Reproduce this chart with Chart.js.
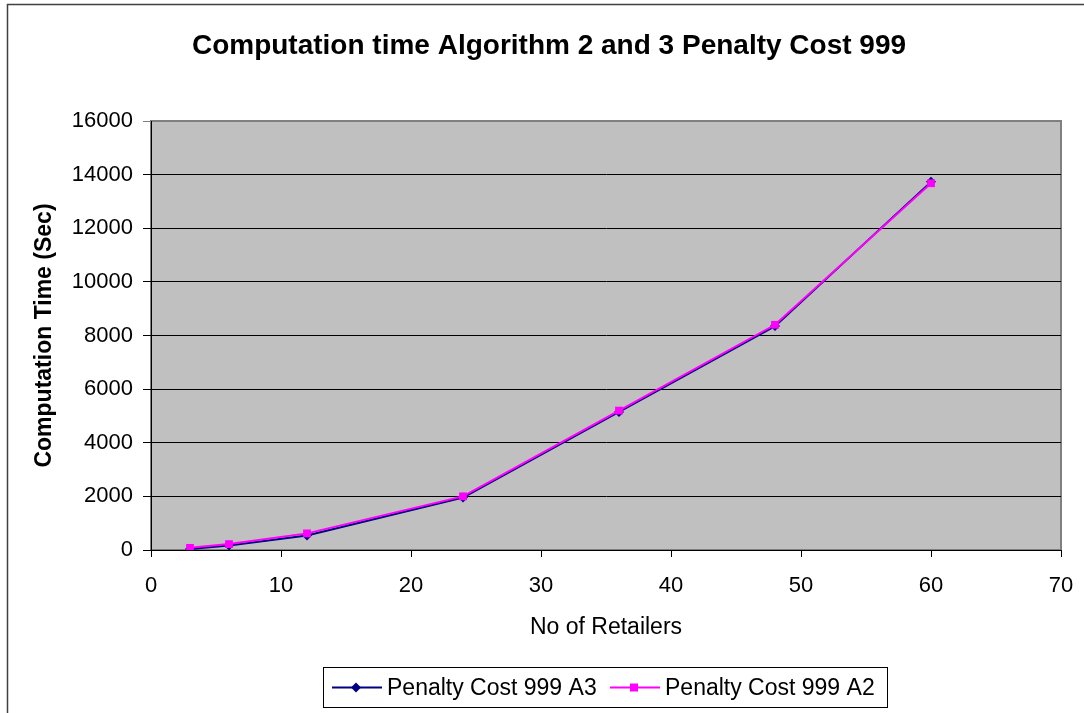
<!DOCTYPE html>
<html>
<head>
<meta charset="utf-8">
<title>Computation time Algorithm 2 and 3 Penalty Cost 999</title>
<script src="https://cdn.jsdelivr.net/npm/chart.js@4/dist/chart.umd.min.js"></script>
<style>
  html, body { margin: 0; padding: 0; background: #ffffff; overflow: hidden; }
  #wrap { position: relative; width: 1084px; height: 713px; }
  canvas { display: block; }
</style>
</head>
<body>
<div id="wrap"><canvas id="chart" width="1084" height="713"></canvas></div>
<script>
// Number of retailers tested
const retailers = [3, 6, 12, 24, 36, 48, 60];
// Computation time in seconds
const timeA3 = [40, 170, 540, 1960, 5150, 8350, 13730];
const timeA2 = [80, 220, 620, 2000, 5200, 8400, 13680];
const seriesLabels = ['Penalty Cost 999 A3', 'Penalty Cost 999 A2'];
const chartTitle = 'Computation time Algorithm 2 and 3 Penalty Cost 999';
const xTitle = 'No of Retailers';
const yTitle = 'Computation Time (Sec)';

const FONT = 'Arial, "Liberation Sans", sans-serif';

function toPoints(xs, ys) {
  return xs.map((x, i) => ({ x: x, y: ys[i] }));
}

// Frame, grey plot panel, title and boxed legend
const decor = {
  id: 'decor',
  beforeDraw(chart) {
    const ctx = chart.ctx;
    const a = chart.chartArea;
    ctx.save();
    ctx.fillStyle = '#ffffff';
    ctx.fillRect(0, 0, chart.width, chart.height);
    ctx.strokeStyle = '#404040';
    ctx.lineWidth = 1.5;
    ctx.strokeRect(7.5, 4.5, chart.width + 20, chart.height + 20);
    ctx.fillStyle = '#c0c0c0';
    ctx.fillRect(a.left, a.top, a.right - a.left, a.bottom - a.top);
    ctx.strokeStyle = '#808080';
    ctx.lineWidth = 2;
    ctx.strokeRect(a.left, a.top, a.right - a.left, a.bottom - a.top);
    ctx.restore();
  },
  afterDraw(chart) {
    const ctx = chart.ctx;
    ctx.save();
    // title
    ctx.fillStyle = '#000';
    ctx.font = 'bold 28px ' + FONT;
    ctx.textAlign = 'center';
    ctx.textBaseline = 'middle';
    ctx.fillText(chartTitle, 549, 46);

    // legend
    const bx = 323, by = 667, bw = 564, bh = 40;
    ctx.fillStyle = '#fff';
    ctx.fillRect(bx, by, bw, bh);
    ctx.strokeStyle = '#000';
    ctx.lineWidth = 1;
    ctx.strokeRect(bx + 0.5, by + 0.5, bw, bh);
    ctx.font = '23px ' + FONT;
    ctx.textAlign = 'left';
    const cy = by + bh / 2 + 0.5;
    const starts = [332, 610];
    chart.data.datasets.forEach((ds, i) => {
      const x0 = starts[i];
      ctx.strokeStyle = ds.borderColor;
      ctx.lineWidth = 2;
      ctx.beginPath();
      ctx.moveTo(x0, cy);
      ctx.lineTo(x0 + 50, cy);
      ctx.stroke();
      ctx.fillStyle = ds.pointBackgroundColor;
      const mx = x0 + 24;
      if (ds.pointStyle === 'rectRot') {
        ctx.beginPath();
        ctx.moveTo(mx, cy - 5);
        ctx.lineTo(mx + 5, cy);
        ctx.lineTo(mx, cy + 5);
        ctx.lineTo(mx - 5, cy);
        ctx.closePath();
        ctx.fill();
      } else {
        ctx.fillRect(mx - 4, cy - 4, 8, 8);
      }
      ctx.fillStyle = '#000';
      ctx.fillText(ds.label, x0 + 55, cy + 1);
    });
    ctx.restore();
  }
};

new Chart(document.getElementById('chart'), {
  type: 'line',
  data: {
    datasets: [
      {
        label: seriesLabels[0],
        data: toPoints(retailers, timeA3),
        borderColor: '#000080',
        backgroundColor: '#000080',
        pointBackgroundColor: '#000080',
        pointBorderColor: '#000080',
        pointStyle: 'rectRot',
        pointRadius: 5,
        pointBorderWidth: 0,
        borderWidth: 2,
        tension: 0,
        order: 2
      },
      {
        label: seriesLabels[1],
        data: toPoints(retailers, timeA2),
        borderColor: '#ff00ff',
        backgroundColor: '#ff00ff',
        pointBackgroundColor: '#ff00ff',
        pointBorderColor: '#ff00ff',
        pointStyle: 'rect',
        pointRadius: 5.5,
        pointBorderWidth: 0,
        borderWidth: 2,
        tension: 0,
        order: 1
      }
    ]
  },
  options: {
    responsive: false,
    devicePixelRatio: 1,
    animation: false,
    events: [],
    layout: { padding: { left: 0, right: 23, top: 121, bottom: 72 } },
    plugins: {
      legend: { display: false },
      title: { display: false },
      tooltip: { enabled: false }
    },
    scales: {
      x: {
        type: 'linear',
        min: 0,
        max: 70,
        afterFit(s) { s.height = 91; s.paddingLeft = 0; s.paddingRight = 0; },
        ticks: { stepSize: 10, color: '#000', padding: 16, font: { family: FONT, size: 22 } },
        grid: { drawOnChartArea: false, color: '#000', tickLength: 7 },
        border: { color: '#000', width: 1 },
        title: { display: true, text: xTitle, color: '#000', padding: 0, font: { family: FONT, size: 23 } }
      },
      y: {
        min: 0,
        max: 16000,
        afterFit(s) { s.width = 151; s.paddingTop = 0; s.paddingBottom = 0; },
        ticks: {
          stepSize: 2000,
          color: '#000',
          padding: 10,
          font: { family: FONT, size: 22 },
          callback: (v) => String(v)
        },
        grid: {
          color: (c) => (c.tick && c.tick.value === 16000 ? '#808080' : '#000'),
          tickLength: 8
        },
        border: { color: '#000', width: 1 },
        title: { display: true, text: yTitle, color: '#000', padding: { top: 31, bottom: 0 }, font: { family: FONT, size: 23, weight: 'bold' } }
      }
    }
  },
  plugins: [decor]
});
</script>
</body>
</html>
